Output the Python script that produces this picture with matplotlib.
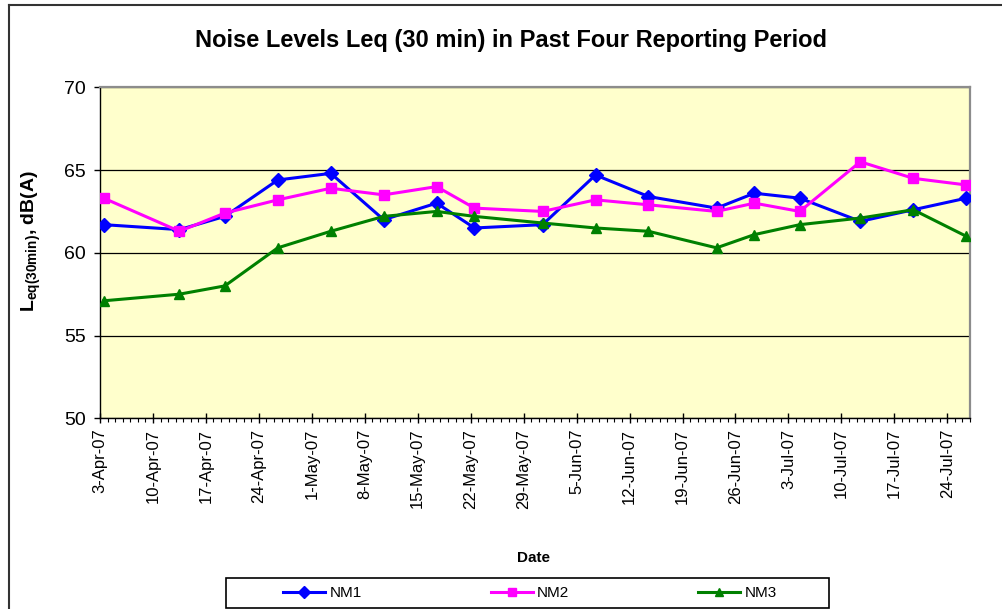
import matplotlib
matplotlib.use('Agg')
import matplotlib.pyplot as plt
import matplotlib.dates as mdates
from matplotlib.patches import Rectangle
from matplotlib.lines import Line2D
from matplotlib.ticker import FixedLocator, FixedFormatter
import datetime as dt

plt.rcParams['font.family'] = ['Liberation Sans', 'DejaVu Sans']
plt.rcParams['mathtext.fontset'] = 'custom'
plt.rcParams['mathtext.bf'] = 'Liberation Sans:bold'
plt.rcParams['mathtext.rm'] = 'Liberation Sans:bold'
plt.rcParams['mathtext.default'] = 'bf'

# ---------------- data ----------------
dates = ['2007-04-03', '2007-04-13', '2007-04-19', '2007-04-26', '2007-05-03',
         '2007-05-10', '2007-05-17', '2007-05-22', '2007-05-31', '2007-06-07',
         '2007-06-14', '2007-06-23', '2007-06-28', '2007-07-04', '2007-07-12',
         '2007-07-19', '2007-07-26']
nm1 = [61.7, 61.4, 62.2, 64.4, 64.8, 62.0, 63.0, 61.5, 61.7, 64.7,
       63.4, 62.7, 63.6, 63.3, 61.9, 62.6, 63.3]
nm2 = [63.3, 61.3, 62.4, 63.2, 63.9, 63.5, 64.0, 62.7, 62.5, 63.2,
       62.9, 62.5, 63.0, 62.5, 65.5, 64.5, 64.1]
nm3 = [57.1, 57.5, 58.0, 60.3, 61.3, 62.2, 62.5, 62.2, 61.8, 61.5,
       61.3, 60.3, 61.1, 61.7, 62.1, 62.6, 61.0]
tick_dates = ['2007-04-03', '2007-04-10', '2007-04-17', '2007-04-24', '2007-05-01',
              '2007-05-08', '2007-05-15', '2007-05-22', '2007-05-29', '2007-06-05',
              '2007-06-12', '2007-06-19', '2007-06-26', '2007-07-03', '2007-07-10',
              '2007-07-17', '2007-07-24']
tick_labels = ['3-Apr-07', '10-Apr-07', '17-Apr-07', '24-Apr-07', '1-May-07',
               '8-May-07', '15-May-07', '22-May-07', '29-May-07', '5-Jun-07',
               '12-Jun-07', '19-Jun-07', '26-Jun-07', '3-Jul-07', '10-Jul-07',
               '17-Jul-07', '24-Jul-07']
series_names = ['NM1', 'NM2', 'NM3']

def d2n(s):
    return mdates.date2num(dt.datetime.strptime(s, '%Y-%m-%d'))

W, H = 1002, 609
fig = plt.figure(figsize=(W / 100, H / 100), dpi=100)
fig.patch.set_facecolor('white')

ax = fig.add_axes([100 / W, 1 - 418.3 / H, (970 - 100) / W, (418.3 - 87.3) / H])
ax.set_facecolor('#FFFFCC')

x = [d2n(d) + 0.5 for d in dates]
styles = [('#0000FF', 'D', 7), ('#FF00FF', 's', 6.5), ('#008000', '^', 7.5)]
handles = []
for vals, name, (c, m, ms) in zip([nm1, nm2, nm3], series_names, styles):
    h, = ax.plot(x, vals, color=c, marker=m, markersize=ms, lw=2.2,
                 markeredgecolor=c, markerfacecolor=c, label=name, zorder=3)
    handles.append(h)

ax.set_ylim(50, 70)
ax.set_yticks([50, 55, 60, 65, 70])
ax.yaxis.grid(True, color='black', lw=0.9)
ax.set_axisbelow(True)

ax.set_xlim(d2n('2007-04-03'), d2n('2007-07-27'))
ax.xaxis.set_major_locator(FixedLocator([d2n(d) for d in tick_dates]))
ax.xaxis.set_major_formatter(FixedFormatter(tick_labels))
ax.xaxis.set_minor_locator(mdates.DayLocator())
ax.tick_params(axis='x', which='major', direction='inout', length=7, width=1,
               labelsize=12, labelrotation=90, pad=4)
ax.tick_params(axis='x', which='minor', direction='out', length=3, width=0.8)
ax.tick_params(axis='y', which='major', direction='out', length=4, width=1,
               labelsize=14, pad=6)

for s in ['left', 'bottom']:
    ax.spines[s].set_color('black')
    ax.spines[s].set_linewidth(1)
for s in ['top', 'right']:
    ax.spines[s].set_color('#8C8C8C')
    ax.spines[s].set_linewidth(1.6)

# title and axis labels
fig.text(511 / W, 1 - 47 / H, 'Noise Levels Leq (30 min) in Past Four Reporting Period',
         ha='center', va='baseline', fontsize=17, fontweight='bold')
fig.text(534 / W, 1 - 558 / H, 'Date', ha='center', va='center',
         fontsize=11, fontweight='bold')
fig.text(31 / W, 1 - 241.5 / H, r'$L_{eq(30min)}$, dB(A)', rotation=90,
         ha='center', va='center', fontsize=14, fontweight='bold')

# legend with its own frame
fig.add_artist(Rectangle((226 / W, 1 - 608 / H), (829 - 226) / W, 30 / H,
                         transform=fig.transFigure, fill=False, ec='black', lw=1.2))
fig.legend(handles, series_names, loc='center', bbox_to_anchor=(530 / W, 1 - 593 / H),
           ncol=3, frameon=False, fontsize=11, handlelength=2.75, handletextpad=0.3,
           columnspacing=8.4, numpoints=1, markerscale=0.85)

# outer chart border (left and top visible)
fig.add_artist(Line2D([9 / W, 9 / W], [0, 1 - 5 / H], transform=fig.transFigure,
                      color='#333333', lw=1.5))
fig.add_artist(Line2D([9 / W, 1], [1 - 5 / H, 1 - 5 / H], transform=fig.transFigure,
                      color='#333333', lw=1.5))

fig.savefig('out.png', dpi=100)
